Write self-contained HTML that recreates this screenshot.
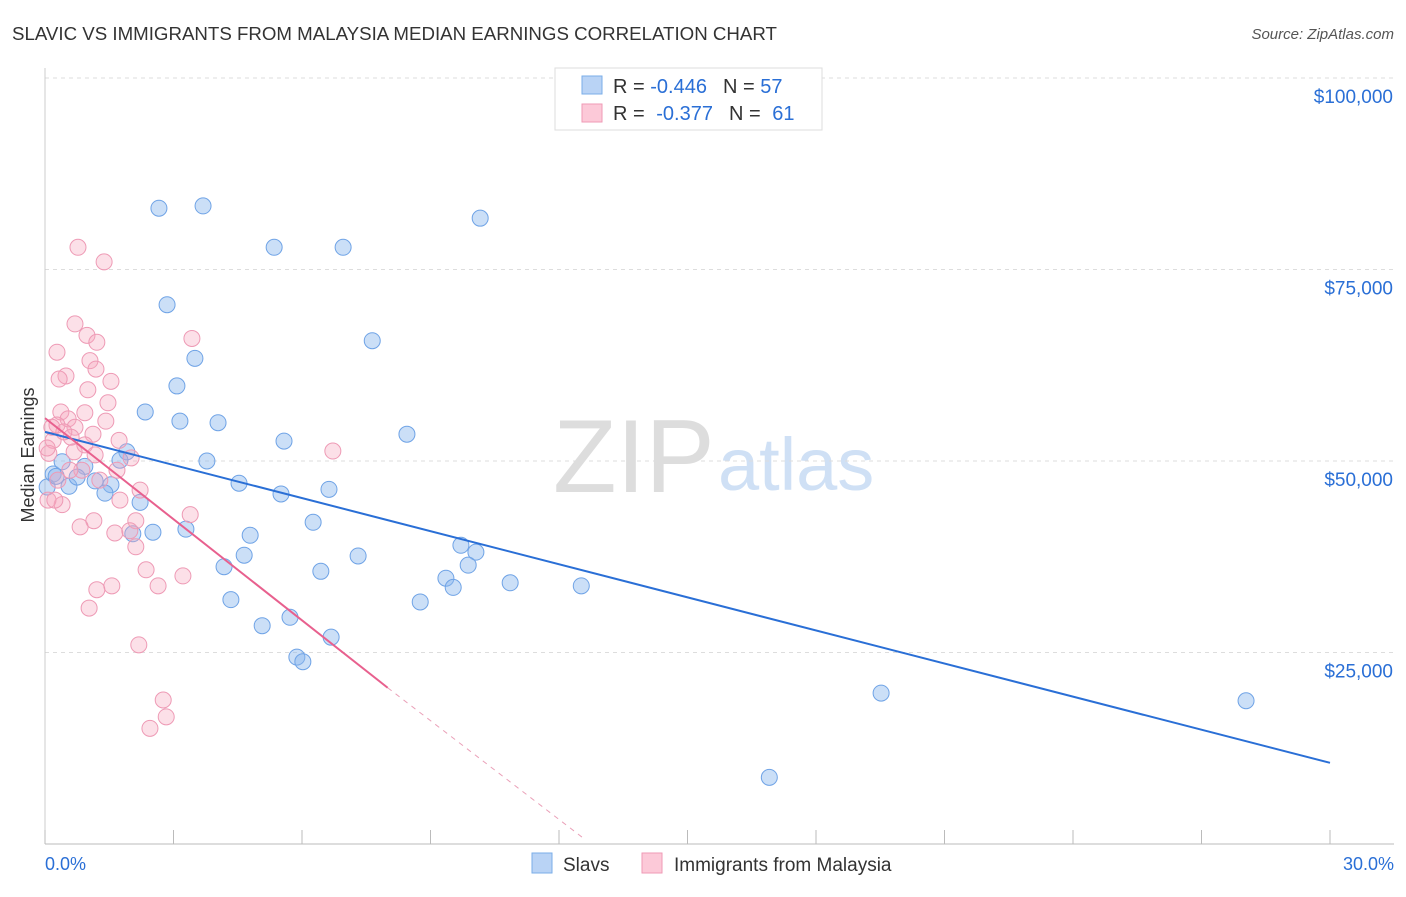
<!DOCTYPE html>
<html><head><meta charset="utf-8"><style>
body{margin:0;background:#fff;font-family:"Liberation Sans",sans-serif;}
svg text{font-family:"Liberation Sans",sans-serif;}
</style></head><body>
<svg id="c" width="1406" height="892" xmlns="http://www.w3.org/2000/svg">
<text x="12" y="40" font-size="18.7" fill="#333">SLAVIC VS IMMIGRANTS FROM MALAYSIA MEDIAN EARNINGS CORRELATION CHART</text>
<text x="1394" y="39" font-size="15" fill="#555" font-style="italic" text-anchor="end">Source: ZipAtlas.com</text>
<text x="553" y="492" font-size="104" fill="#ddd" font-family="Liberation Serif">ZIP</text>
<text x="718" y="490" font-size="74" fill="#cfe0f5">atlas</text>
<text transform="translate(34,455) rotate(-90)" font-size="18" fill="#333" text-anchor="middle">Median Earnings</text>
<g id="grid"></g><g id="pts"></g><g id="lines"></g>
<g>
<rect x="555" y="68" width="267" height="62" fill="#fff" stroke="#ddd"/>
<rect x="582" y="76" width="20" height="18" fill="#b9d3f5" stroke="#7aaee8"/>
<rect x="582" y="104" width="20" height="18" fill="#fcc9d8" stroke="#ef9ab6"/>
<text x="613" y="93" font-size="20" fill="#333">R = <tspan fill="#2a6fd6">-0.446</tspan><tspan dx="16">N = </tspan><tspan fill="#2a6fd6">57</tspan></text>
<text x="613" y="120" font-size="20" fill="#333">R = <tspan fill="#2a6fd6" dx="6">-0.377</tspan><tspan dx="16">N = </tspan><tspan fill="#2a6fd6" dx="6">61</tspan></text>
</g>
<g>
<rect x="532" y="853" width="20" height="20" fill="#b9d3f5" stroke="#7aaee8"/>
<text x="563" y="871" font-size="19" fill="#333">Slavs</text>
<rect x="642" y="853" width="20" height="20" fill="#fcc9d8" stroke="#ef9ab6"/>
<text x="674" y="871" font-size="19" fill="#333">Immigrants from Malaysia</text>
</g>
<text x="45" y="870" font-size="18" fill="#2a6fd6">0.0%</text>
<text x="1394" y="870" font-size="18" fill="#2a6fd6" text-anchor="end">30.0%</text>
</svg>
<script>
const blueX=[2.66,3.69,10.16,5.35,6.96,2.85,7.64,3.50,3.08,2.34,3.15,4.04,8.45,5.58,3.78,1.91,0.19,0.93,0.40,0.56,0.75,1.17,1.54,1.40,2.22,4.53,5.51,6.63,6.26,3.29,2.52,2.05,4.79,4.65,7.31,9.71,10.06,9.88,6.44,4.18,9.36,9.53,10.86,12.52,8.76,4.34,5.72,5.07,6.68,5.88,6.02,19.52,28.04,16.91,0.05,0.26,1.75];
const blueY=[83.0,83.3,81.7,77.9,77.9,70.4,65.7,63.4,59.8,56.4,55.2,55.0,53.5,52.6,50.0,51.2,48.3,49.3,49.9,46.7,47.9,47.4,46.9,45.8,44.6,47.1,45.7,46.3,42.0,41.1,40.7,40.5,40.3,37.7,37.6,39.0,38.1,36.4,35.6,36.2,34.7,33.5,34.1,33.7,31.6,31.9,29.6,28.5,27.0,24.4,23.8,19.7,18.7,8.7,46.6,48.0,50.1];
const pinkX=[0.77,1.38,0.70,0.98,3.43,1.21,0.28,1.05,1.19,0.49,0.33,1.54,1.00,1.47,0.37,0.93,0.54,1.42,0.28,0.70,1.12,0.61,1.73,0.19,0.09,2.01,0.68,6.72,1.68,0.86,2.22,0.40,0.07,2.12,1.14,0.82,3.39,1.63,1.98,2.12,2.36,3.22,2.64,1.56,1.21,1.03,2.19,2.76,2.83,2.45,0.05,0.16,0.44,1.28,0.23,0.30,1.75,0.58,0.93,1.17];
const pinkY=[77.9,76.0,67.9,66.4,66.0,65.5,64.2,63.1,62.0,61.1,60.7,60.4,59.3,57.6,56.4,56.3,55.5,55.2,54.7,54.4,53.5,53.1,52.7,52.7,51.0,50.4,51.2,51.3,48.8,48.8,46.2,44.3,44.9,42.2,42.2,41.4,43.0,40.6,40.9,38.8,35.8,35.0,33.7,33.7,33.2,30.8,26.0,18.8,16.6,15.1,51.7,54.4,53.8,47.5,44.9,47.5,44.9,48.8,52.1,50.8];
const yTicks=[100,75,50,25];
const yTickLabels=["$100,000","$75,000","$50,000","$25,000"];
const blueTrend=[[0,53.8],[30,10.6]];
const pinkTrend=[[0,55.6],[8.0,20.4]];
const pinkDash=[[8.0,20.4],[12.56,0.8]];
const NS="http://www.w3.org/2000/svg";
const sx=p=>45+p/30*1285;
const sy=v=>78+(100-v)/25*191.5;
function mk(t,a,parent){const e=document.createElementNS(NS,t);for(const k in a)e.setAttribute(k,a[k]);parent.appendChild(e);return e;}
const grid=document.getElementById('grid');
yTicks.forEach((v,i)=>{
 const l=mk('line',{x1:45,x2:1394,y1:sy(v),y2:sy(v),stroke:'#ddd','stroke-dasharray':'4,4'},grid);
 
 
 const t=mk('text',{x:1393,y:sy(v)+25,'font-size':19,fill:'#2a6fd6','text-anchor':'end'},grid);
 t.textContent=yTickLabels[i];
 
 
});
const ax=mk('line',{x1:45,x2:1394,y1:844,y2:844,stroke:'#bbb'},grid);


const ay=mk('line',{x1:45,x2:45,y1:68,y2:844,stroke:'#ccc'},grid);


for(let i=0;i<=10;i++){const tk=mk('line',{x1:sx(i*3),x2:sx(i*3),y1:830,y2:844,stroke:'#bbb'},grid);
 
 }
const pts=document.getElementById('pts');
blueX.forEach((x,i)=>{const c=mk('circle',{cx:sx(x),cy:sy(blueY[i]),r:8,fill:'rgba(140,185,238,0.45)',stroke:'#6fa3e6','stroke-width':1},pts);
 
 });
pinkX.forEach((x,i)=>{const c=mk('circle',{cx:sx(x),cy:sy(pinkY[i]),r:8,fill:'rgba(245,165,190,0.35)',stroke:'#ee9ab5','stroke-width':1},pts);
 
 });
const lines=document.getElementById('lines');
const bl=mk('line',{x1:sx(blueTrend[0][0]),y1:sy(blueTrend[0][1]),x2:sx(blueTrend[1][0]),y2:sy(blueTrend[1][1]),stroke:'#2a6fd6','stroke-width':2},lines);


const pl=mk('line',{x1:sx(pinkTrend[0][0]),y1:sy(pinkTrend[0][1]),x2:sx(pinkTrend[1][0]),y2:sy(pinkTrend[1][1]),stroke:'#e8608e','stroke-width':2},lines);


const pd=mk('line',{x1:sx(pinkDash[0][0]),y1:sy(pinkDash[0][1]),x2:sx(pinkDash[1][0]),y2:sy(pinkDash[1][1]),stroke:'#eaa0b8','stroke-width':1,'stroke-dasharray':'5,5'},lines);


</script>
</body></html>
